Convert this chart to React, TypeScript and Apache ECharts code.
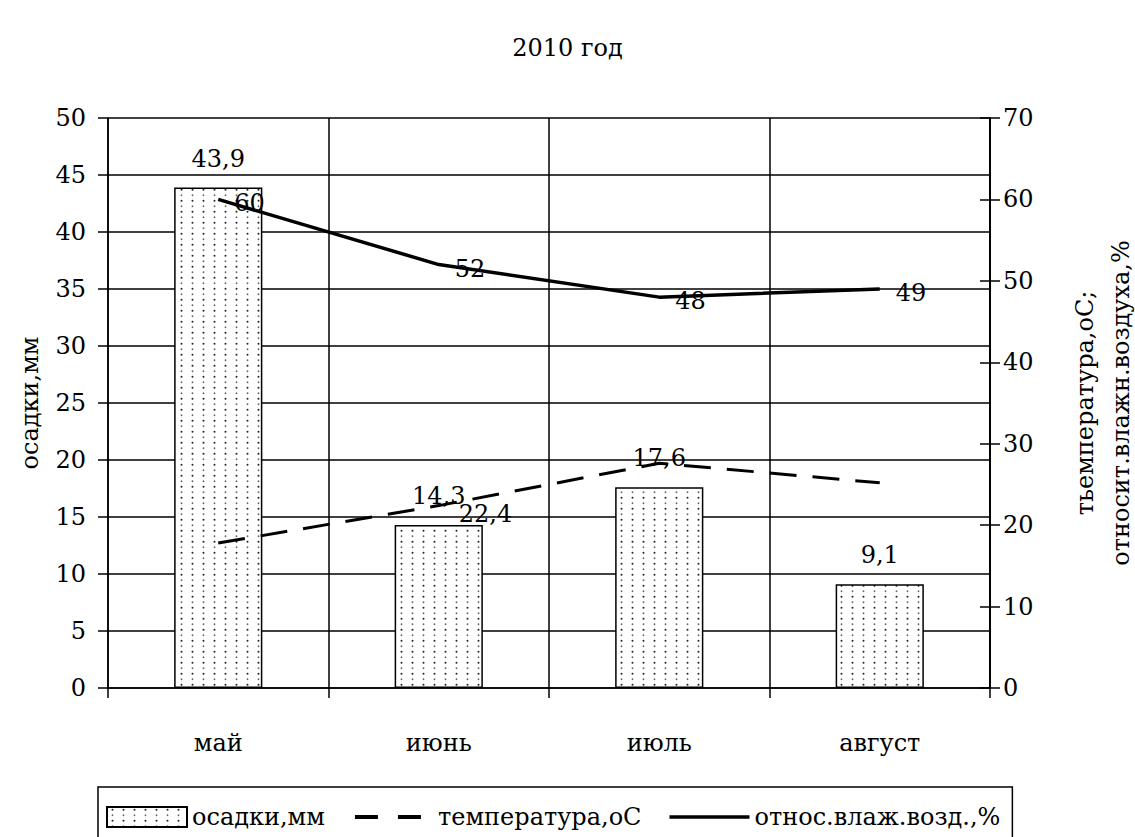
import React, { useEffect, useRef } from "react";
import * as echarts from "echarts";

const months = ["май", "июнь", "июль", "август"];
const precipitation = [43.9, 14.3, 17.6, 9.1];
const temperature = [17.8, 22.4, 27.6, 25.2];
const humidity = [60, 52, 48, 49];
const temperatureLabelShown = [false, true, false, false];

const FONT = "DejaVu Serif";

function makeDots(): HTMLCanvasElement {
  const c = document.createElement("canvas");
  c.width = 11;
  c.height = 11;
  const ctx = c.getContext("2d")!;
  ctx.fillStyle = "#ffffff";
  ctx.fillRect(0, 0, 11, 11);
  ctx.fillStyle = "#222222";
  ctx.beginPath();
  ctx.arc(5.5, 2.75, 1.0, 0, Math.PI * 2);
  ctx.fill();
  ctx.fillStyle = "#666666";
  ctx.beginPath();
  ctx.arc(5.5, 8.25, 0.9, 0, Math.PI * 2);
  ctx.fill();
  return c;
}

const comma = (v: number) => String(v).replace(".", ",");

const DASH_ICON =
  "path://M0,0L0.01,0L0,0.01ZM80,20L79.99,20L80,19.99ZM2,8L25,8L25,12L2,12ZM45,8L68,8L68,12L45,12Z";
const SOLID_ICON =
  "path://M0,0L0.01,0L0,0.01ZM80,20L79.99,20L80,19.99ZM0,8.3L80,8.3L80,11.7L0,11.7Z";

export default function App() {
  const ref = useRef<HTMLDivElement>(null);
  useEffect(() => {
    document.body.style.margin = "0";
    const chart = echarts.init(ref.current!, null, { renderer: "svg" });
    const dots = makeDots();
    const txt = { fontFamily: FONT, color: "#000", fontSize: 24 };
    const pointLabel = {
      show: true,
      position: "right",
      distance: 16,
      offset: [0, 4],
      ...txt,
      opacity: 1,
      formatter: (p: any) => comma(p.value[1] ?? p.value),
    };
    chart.setOption({
      animation: false,
      backgroundColor: "#ffffff",
      textStyle: { fontFamily: FONT },
      title: {
        text: "2010 год",
        left: "center",
        top: 31,
        textStyle: { ...txt, fontWeight: "normal" },
      },
      grid: { left: 108, right: 145, top: 118, bottom: 149, outerBoundsMode: "none" },
      legend: {
        left: 98,
        top: 787,
        itemWidth: 80,
        itemHeight: 20,
        itemGap: 28,
        padding: [18, 12, 18, 8],
        borderColor: "#000",
        borderWidth: 1.5,
        textStyle: { ...txt },
        data: [
          { name: "осадки,мм", icon: "rect" },
          { name: "температура,оС", icon: DASH_ICON },
          { name: "относ.влаж.возд.,%", icon: SOLID_ICON },
        ],
      },
      xAxis: {
        type: "category",
        data: months,
        boundaryGap: true,
        axisLine: { lineStyle: { color: "#000", width: 1.5 } },
        axisTick: { show: true, length: 10, lineStyle: { color: "#000", width: 1.5 } },
        axisLabel: { ...txt, margin: 43 },
        splitLine: { show: true, lineStyle: { color: "#000", width: 1.5 } },
      },
      yAxis: [
        {
          type: "value",
          min: 0,
          max: 50,
          interval: 5,
          position: "left",
          name: "осадки,мм",
          nameLocation: "middle",
          nameRotate: 90,
          nameGap: 66,
          nameTextStyle: { ...txt },
          axisLine: { show: true, lineStyle: { color: "#000", width: 1.5 } },
          axisTick: { show: true, length: 10, lineStyle: { color: "#000", width: 1.5 } },
          axisLabel: { ...txt, margin: 22 },
          splitLine: { show: true, lineStyle: { color: "#000", width: 1.5 } },
        },
        {
          type: "value",
          min: 0,
          max: 70,
          interval: 10,
          position: "right",
          name: "тьемпература,оС;\nотносит.влажн.воздуха,%",
          nameLocation: "middle",
          nameRotate: 90,
          nameGap: 77,
          nameTextStyle: { ...txt, lineHeight: 36 },
          axisLine: { show: true, lineStyle: { color: "#000", width: 2 } },
          axisTick: { show: true, length: 10, lineStyle: { color: "#000", width: 1.5 } },
          axisLabel: { ...txt, margin: 13 },
          splitLine: { show: false },
        },
        {
          type: "value",
          min: 0,
          max: 70,
          interval: 10,
          position: "right",
          axisLine: { show: false },
          axisTick: { show: true, inside: true, length: 10, lineStyle: { color: "#000", width: 1.5 } },
          axisLabel: { show: false },
          splitLine: { show: false },
        },
      ],
      series: [
        {
          name: "осадки,мм",
          type: "bar",
          yAxisIndex: 0,
          data: precipitation,
          barWidth: "40%",
          itemStyle: {
            color: { image: dots, repeat: "repeat" },
            borderColor: "#000",
            borderWidth: 1.5,
          },
          label: {
            show: true,
            position: "top",
            distance: 17,
            ...txt,
            formatter: (p: any) => comma(p.value),
          },
        },
        {
          name: "температура,оС",
          type: "line",
          yAxisIndex: 1,
          symbol: "none",
          data: temperature,
          lineStyle: { color: "#000", width: 3, type: [27, 16] },
          itemStyle: { color: "#000" },
          z: 5,
        },
        {
          name: "относ.влаж.возд.,%",
          type: "line",
          yAxisIndex: 1,
          symbol: "none",
          data: humidity,
          lineStyle: { color: "#000", width: 3.5 },
          itemStyle: { color: "#000" },
          z: 5,
        },
        {
          name: "temperature-labels",
          type: "scatter",
          yAxisIndex: 1,
          symbolSize: 0,
          silent: true,
          itemStyle: { color: "#000" },
          data: temperature
            .map((v, i) => [months[i], v, i])
            .filter((d) => temperatureLabelShown[d[2] as number])
            .map((d) => [d[0], d[1]]),
          label: { ...pointLabel, offset: [4, 8] },
          z: 6,
        },
        {
          name: "humidity-labels",
          type: "scatter",
          yAxisIndex: 1,
          symbolSize: 0,
          silent: true,
          itemStyle: { color: "#000" },
          data: humidity.map((v, i) => [months[i], v]),
          label: pointLabel,
          z: 6,
        },
      ],
    });
    return () => chart.dispose();
  }, []);
  return <div ref={ref} style={{ width: 1135, height: 837 }} />;
}
